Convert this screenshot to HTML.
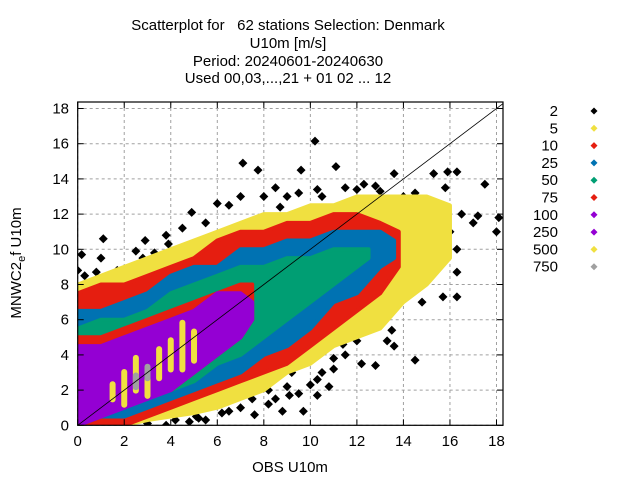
<!DOCTYPE html>
<html><head><meta charset="utf-8"><style>
html,body{margin:0;padding:0;background:#fff;}
svg{display:block;font-family:"Liberation Sans","DejaVu Sans",sans-serif;}
</style></head><body>
<svg id="chart" width="640" height="480" viewBox="0 0 640 480">
<g font-size="15" text-anchor="middle" fill="#000">
<text x="288" y="30" xml:space="preserve">Scatterplot for   62 stations Selection: Denmark</text>
<text x="288" y="48">U10m [m/s]</text>
<text x="288" y="66">Period: 20240601-20240630</text>
<text x="288" y="83">Used 00,03,...,21 + 01 02 ... 12</text>
</g>
<defs><clipPath id="pc"><rect x="77.7" y="102" width="425.3" height="323.3"/></clipPath></defs>
<g id="grid"></g>
<g id="marks" clip-path="url(#pc)"></g>
<g id="axes"></g>
<text x="290" y="472" font-size="15" text-anchor="middle">OBS U10m</text>
<text transform="translate(21,263) rotate(-90)" font-size="15" text-anchor="middle">MNWC2<tspan font-size="11" dy="4">e</tspan><tspan dy="-4">f U10m</tspan></text>
<g id="legend"></g>
</svg>
<script>
const xTicks=[0,2,4,6,8,10,12,14,16,18];
const yTicks=[0,2,4,6,8,10,12,14,16,18];
const levelLabels=["2","5","10","25","50","75","100","250","500","750"];
const levelColors=["#000000","#f0e040","#e51e10","#0072b2","#009e73","#e51e10","#9400d3","#9400d3","#f0e040","#a0a0a0"];
// band envelopes: [x, ylow, yhigh]
const bandYellow5=[[0,0,8],[1,0,8.5],[2,0,9],[3,0.3,9.5],[4,0.5,10],[5,0.7,10.5],[6,1,11],[7,1.5,11.5],[8,2,12],[9,3,12],[10,3.5,12.5],[11,4.5,12.5],[12,5,13],[13,5.5,13],[14,7,13],[15,8,13],[16,9.5,12.5]];
const bandRed10=[[0,0,7.5],[1,0,8],[2,0,8],[3,0.5,8.5],[4,1,9],[5,1.5,9.5],[6,2,10.5],[7,2.5,11],[8,3,11],[9,3.5,11.5],[10,4.5,11.5],[11,5.5,12],[12,6.5,12],[13,7.5,11.5],[13.8,9,11]];
const bandBlue25=[[0,0,6.5],[1,0.5,6.5],[2,0.5,7],[3,1,7.5],[4,1.5,8.5],[5,2,9],[6,2.5,9],[7,3,10],[8,4,10],[9,4.5,10.5],[10,5.5,10.5],[11,7,11],[12,7.5,11],[13,9,11],[13.6,9.5,10.5]];
const bandGreen50=[[0,0,5.5],[1,1,6],[2,1,6],[3,1.5,6.5],[4,2,7.5],[5,2.5,8],[6,3.5,8.5],[7,4,9],[8,5,9],[9,6,9.5],[10,7,9.5],[11,8,10],[12,9,10],[12.5,9.5,10]];
const bandRed75=[[0,0.5,5],[1,1,5],[2,1.5,5.5],[3,2,6],[4,2,6.5],[5,3,7],[6,4,7.5],[7,5,8],[7.5,6,8]];
const bandPurple100=[[0,0,4.5],[1,0.5,4.5],[2,1,5],[3,1.5,5.5],[4,2,6],[5,3,6.5],[6,4,7.5],[7,5,7.5],[7.5,6,7]];
const streaksYellow500=[[1.5,1.3,2.5],[2,1,3.2],[2.5,1.8,4],[3,1.5,3],[3.5,2.5,4.5],[4,3,5],[4.5,3,6],[5,3.5,5.5]];
const streaksGray750=[[2.5,2,3],[3,2.5,3.5]];
const blackX=[10.2,7.1,7.75,11.1,15.9,16.3,17.5,18.1,18,16.3,16.3,15.7,16.3,14.5,12.8,10.3,9.7,7.6,5.5,5.1,1.1,0.17,0,2.9,4.9,9.6,12,13.6,15.3,14.5,14.7,14.8,13.5,13.6,11.9,11.4,11,10.3,9.1,8.2,6.5,3.8,2.5,1.7,3.9,6,8.7,10.3,12.8,17.2,15.4,14.8,
0.3,0.8,1.2,1.6,2.2,2.5,2.8,3.3,1,0.5,1.8,
8.5,9,9.5,8.8,10,10.5,11,11.5,12,12.3,12.5,13,12.8,9.2,8.2,7.5,7,6.2,10.8,11.7,13.3,12.2,
6.5,7,8,8.5,9,9.5,10.5,11.5,12.3,13,14,14.5,15,15.8,16.5,17,15.5,16,5.5,4.5,3.8,
4.2,4.8,2,3,5.2];
const blackY=[16.15,14.9,14.5,14.7,14.4,14.4,13.7,11.8,11,10,8.7,7.3,7.3,3.7,3.4,1.7,0.8,0.6,0.3,0.5,10.6,9.7,8.8,10.5,12.1,14.5,13.4,14.3,14.3,9.1,8.3,7,5.4,4.5,5.5,4.6,3.8,2.6,1.7,1.2,0.8,0,9.9,8.8,10.3,12.6,12.4,13.4,13.6,11.9,11.2,10,
8.5,8.7,8.3,8.6,8.4,9.1,9.5,9.8,9.5,8.1,7.8,
1.5,2.2,1.8,0.8,2.3,3,3.2,4,4.8,5.3,6,6,6.5,3,2,1.5,1,0.7,2.2,5.2,4.8,3.5,
12.5,13,13,13.5,13,13.2,13,13.5,13.7,13.3,13,13.2,12.8,13.5,12,11.5,10.5,11,11.5,11.2,10.8,
0.3,0.2,0,0.1,0.4];

const NS="http://www.w3.org/2000/svg";
const L=77.7,R=503,T=102,B=425.3,X0=0,X1=18.28,Y0=0,Y1=18.37;
const sx=v=>L+(v-X0)/(X1-X0)*(R-L);
const sy=v=>B-(v-Y0)/(Y1-Y0)*(B-T);
function mk(tag,attrs,parent){const e=document.createElementNS(NS,tag);for(const k in attrs)e.setAttribute(k,attrs[k]);parent.appendChild(e);return e;}
const grid=document.getElementById('grid'),marks=document.getElementById('marks'),axes=document.getElementById('axes'),legend=document.getElementById('legend');
xTicks.forEach(t=>{const g=mk('line',{x1:sx(t),x2:sx(t),y1:T,y2:B,stroke:'#a0a0a0','stroke-dasharray':'3,3','stroke-width':1},grid);

});
yTicks.forEach(t=>{const g=mk('line',{x1:L,x2:R,y1:sy(t),y2:sy(t),stroke:'#a0a0a0','stroke-dasharray':'3,3','stroke-width':1},grid);

});
function band(data,color,name){
  const pts=data.map(d=>sx(d[0])+','+sy(d[2])).concat(data.slice().reverse().map(d=>sx(d[0])+','+sy(d[1])));
  const p=mk('polygon',{points:pts.join(' '),fill:color,stroke:color,'stroke-width':4,'stroke-linejoin':'round'},marks);
  
  
}
function streaks(data,color,name){data.forEach(d=>{
  const r=mk('rect',{x:sx(d[0])-3,y:sy(d[2]),width:6,height:sy(d[1])-sy(d[2]),fill:color,rx:3},marks);
  
  });}
function diamond(cx,cy,s){return `${cx},${cy-s} ${cx+s},${cy} ${cx},${cy+s} ${cx-s},${cy}`;}
blackX.forEach((x,i)=>{const p=mk('polygon',{points:diamond(sx(x),sy(blackY[i]),4.5),fill:'#000'},marks);

});
band(bandYellow5,levelColors[1],'band-count-5');
band(bandRed10,levelColors[2],'band-count-10');
band(bandBlue25,levelColors[3],'band-count-25');
band(bandGreen50,levelColors[4],'band-count-50');
band(bandRed75,levelColors[5],'band-count-75');
band(bandPurple100,levelColors[6],'band-count-100');
streaks(streaksYellow500,levelColors[8],'streak-count-500');
streaks(streaksGray750,levelColors[9],'streak-count-750');
const diag=mk('line',{x1:sx(0),y1:sy(0),x2:sx(20),y2:sy(20),stroke:'#000','stroke-width':0.8},marks);


const fr=mk('rect',{x:L,y:T,width:R-L,height:B-T,fill:'none',stroke:'#000','stroke-width':1.2},axes);


xTicks.forEach(t=>{
  mk('line',{x1:sx(t),x2:sx(t),y1:B,y2:B-6,stroke:'#000'},axes);
  mk('line',{x1:sx(t),x2:sx(t),y1:T,y2:T+6,stroke:'#000'},axes);
  const tx=mk('text',{x:sx(t),y:446,'font-size':15,'text-anchor':'middle'},axes);tx.textContent=t;
  
  
});
yTicks.forEach(t=>{
  mk('line',{x1:L,x2:L+6,y1:sy(t),y2:sy(t),stroke:'#000'},axes);
  mk('line',{x1:R,x2:R-6,y1:sy(t),y2:sy(t),stroke:'#000'},axes);
  const tx=mk('text',{x:69,y:sy(t)+5,'font-size':15,'text-anchor':'end'},axes);tx.textContent=t;
  
  
});
levelLabels.forEach((lab,i)=>{
  const y=111+i*17.3;
  const tx=mk('text',{x:558,y:y+5,'font-size':15,'text-anchor':'end'},legend);tx.textContent=lab;
  
  
  const d=mk('polygon',{points:diamond(594,y,3.5),fill:levelColors[i]},legend);
  
  
});
</script>
</body></html>
